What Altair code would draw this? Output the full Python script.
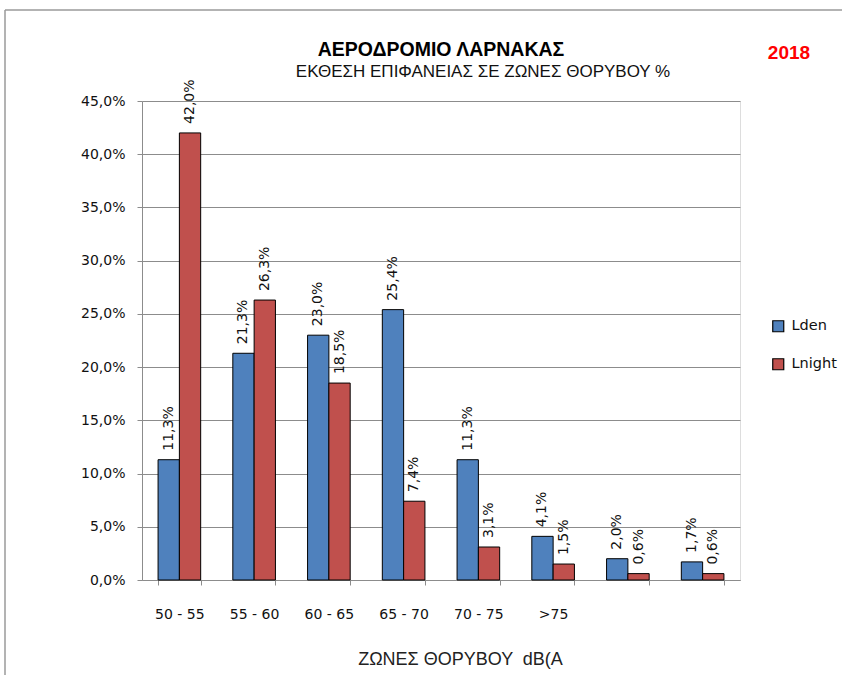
import altair as alt
import pandas as pd

# Noise-zone exposure data (% of surface area)
zones = ["50 - 55", "55 - 60", "60 - 65", "65 - 70", "70 - 75", ">75", " ", "  "]
lden = [11.3, 21.3, 23.0, 25.4, 11.3, 4.1, 2.0, 1.7]
lnight = [42.0, 26.3, 18.5, 7.4, 3.1, 1.5, 0.6, 0.6]
series = ["Lden", "Lnight"]
colors = ["#4F81BD", "#C0504D"]
y_ticks = [0, 5, 10, 15, 20, 25, 30, 35, 40, 45]
year = "2018"
title_text = "ΑΕΡΟΔΡΟΜΙΟ ΛΑΡΝΑΚΑΣ"
subtitle_text = "ΕΚΘΕΣΗ ΕΠΙΦΑΝΕΙΑΣ ΣΕ ΖΩΝΕΣ ΘΟΡΥΒΟΥ %"

rows = []
for z, a, b in zip(zones, lden, lnight):
    rows.append({"zone": z, "series": "Lden", "value": a})
    rows.append({"zone": z, "series": "Lnight", "value": b})
df = pd.DataFrame(rows)

W, H = 598, 479
PAD_L, PAD_T = 142, 101
FONT = "DejaVu Sans"
GREY = "#8c8c8c"

pct_expr = "replace(format(datum.value, '.1%'), '.', ',')"

base = alt.Chart(df).transform_calculate(
    frac="datum.value / 100",
    label="replace(format(datum.value / 100, '.1%'), '.', ',')",
).encode(
    x=alt.X(
        "zone:N",
        sort=zones,
        scale=alt.Scale(paddingInner=0.43, paddingOuter=0.215),
        axis=alt.Axis(
            title="ΖΩΝΕΣ ΘΟΡΥΒΟΥ \u00a0dB(A",
            titleFont="Liberation Sans",
            titleFontSize=18,
            titleFontWeight="normal",
            titleColor="#222",
            titleAnchor="start",
            titleAlign="center",
            titleBaseline="alphabetic",
            titleX=318,
            titleY=84,
            labelAngle=0,
            labelFont=FONT,
            labelFontSize=14,
            labelColor="#111",
            labelPadding=22,
            tickBand="extent",
            tickSize=5,
            tickColor=GREY,
            domainColor=GREY,
            grid=False,
        ),
    ),
    xOffset=alt.XOffset("series:N", sort=series,
                        scale=alt.Scale(paddingInner=0, paddingOuter=0)),
    y=alt.Y(
        "frac:Q",
        scale=alt.Scale(domain=[0, 0.45], nice=False),
        axis=alt.Axis(
            title=None,
            values=[t / 100 for t in y_ticks],
            labelExpr=pct_expr,
            labelFont=FONT,
            labelFontSize=14,
            labelColor="#111",
            labelPadding=12,
            tickSize=5,
            tickColor=GREY,
            domainColor=GREY,
            gridColor=GREY,
            gridWidth=1,
        ),
    ),
)

bars = base.mark_bar(stroke="#000", strokeWidth=1).encode(
    color=alt.Color(
        "series:N",
        sort=series,
        scale=alt.Scale(domain=series, range=colors),
        legend=alt.Legend(
            title=None,
            orient="none",
            legendX=629,
            legendY=218,
            symbolType="square",
            symbolSize=121,
            symbolStrokeColor="#000",
            symbolStrokeWidth=1.2,
            labelFont=FONT,
            labelFontSize=14.5,
            labelColor="#111",
            labelOffset=6,
            rowPadding=21,
            padding=0,
        ),
    )
)

labels = base.mark_text(
    angle=270, align="left", baseline="middle", dx=9,
    font=FONT, fontSize=14, color="#111",
).encode(text="label:N")

# outer chart border
one = pd.DataFrame({"k": [0]})
top_edge = alt.Chart(one).mark_rule(color="#9a9a9a", strokeWidth=1.5).encode(
    x=alt.value(-137), x2=alt.value(710), y=alt.value(-91)
)
left_edge = alt.Chart(one).mark_rule(color="#9a9a9a", strokeWidth=1.5).encode(
    x=alt.value(-137), y=alt.value(-91), y2=alt.value(600)
)

# heading lines and year tag
heading = alt.Chart(pd.DataFrame({"t": [title_text]})).mark_text(
    font="Liberation Sans", fontWeight="bold", fontSize=19.5, color="#000",
    align="center", baseline="alphabetic",
).encode(x=alt.value(W / 2), y=alt.value(-45), text="t:N")

subheading = alt.Chart(pd.DataFrame({"t": [subtitle_text]})).mark_text(
    font="Liberation Sans", fontSize=17, color="#111",
    align="center", baseline="alphabetic",
).encode(x=alt.value(W / 2 + 42), y=alt.value(-24), text="t:N")

year_text = alt.Chart(pd.DataFrame({"year": [year]})).mark_text(
    font="Liberation Sans", fontWeight="bold", fontSize=19, color="#FF0000",
    align="center", baseline="alphabetic",
).encode(x=alt.value(647), y=alt.value(-42), text="year:N")

chart = alt.layer(
    top_edge, left_edge, bars, labels, heading, subheading, year_text
).properties(
    width=W,
    height=H,
    autosize=alt.AutoSizeParams(type="none"),
    padding={"left": PAD_L, "top": PAD_T, "right": 842 - PAD_L - W, "bottom": 675 - PAD_T - H},
).configure_view(stroke=None).configure(background="white")

chart.save("out.html", embed_options={"renderer": "svg", "actions": False})
